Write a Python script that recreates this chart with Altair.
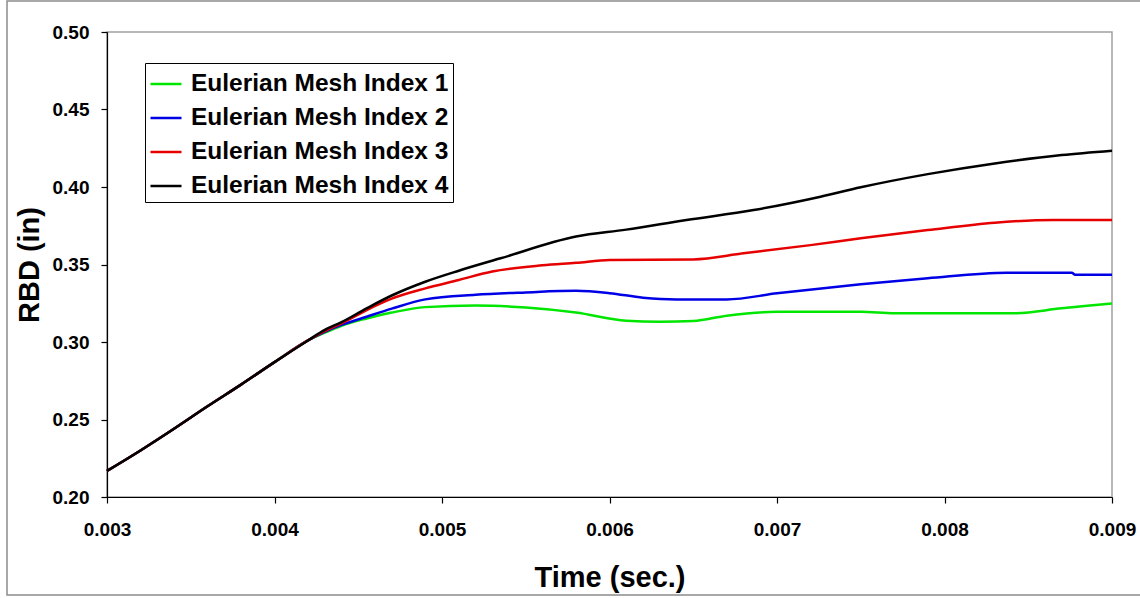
import altair as alt
import pandas as pd

series_names = ["Eulerian Mesh Index 1", "Eulerian Mesh Index 2",
                "Eulerian Mesh Index 3", "Eulerian Mesh Index 4"]
series_colors = ["#00e600", "#0000e6", "#e60000", "#000000"]

common_t = [0.0030, 0.0032, 0.0034, 0.0036, 0.0038, 0.0040, 0.0042]
common_v = [0.2168, 0.2300, 0.2440, 0.2585, 0.2725, 0.2870, 0.3010]

green_t = [0.0043, 0.0044, 0.00455, 0.0047, 0.0049, 0.0052, 0.0055, 0.0058,
           0.0061, 0.0063, 0.0065, 0.0067, 0.0070, 0.0075, 0.0077, 0.0084,
           0.0087, 0.0090]
green_v = [0.3060, 0.3105, 0.3152, 0.3190, 0.3225, 0.3235, 0.3222, 0.3190,
           0.3137, 0.3130, 0.3135, 0.3170, 0.3195, 0.3195, 0.3186, 0.3185,
           0.3217, 0.3249]

blue_t = [0.0043, 0.0044, 0.00455, 0.0047, 0.0049, 0.0052, 0.0055, 0.0058,
          0.0060, 0.0062, 0.0064, 0.0067, 0.0070, 0.0075, 0.0079, 0.00837,
          0.00876, 0.00878, 0.0090]
blue_v = [0.3065, 0.3110, 0.3163, 0.3215, 0.3275, 0.3305, 0.3320, 0.3330,
          0.3315, 0.3286, 0.3275, 0.3275, 0.3314, 0.3372, 0.3411, 0.3447,
          0.3447, 0.3434, 0.3434]

red_t = [0.0043, 0.0044, 0.00455, 0.0047, 0.0049, 0.0051, 0.0053, 0.0056,
         0.0058, 0.0060, 0.0065, 0.0068, 0.0072, 0.0075, 0.0079, 0.0083,
         0.00865, 0.0090]
red_v = [0.3070, 0.3120, 0.3206, 0.3280, 0.3346, 0.3400, 0.3455, 0.3495,
         0.3511, 0.3529, 0.3533, 0.3572, 0.3625, 0.3669, 0.3722, 0.3770,
         0.3787, 0.3787]

black_t = [0.0043, 0.0044, 0.00455, 0.0047, 0.0049, 0.0051, 0.00535, 0.0058,
           0.0061, 0.00646, 0.00686, 0.00726, 0.0075, 0.0079, 0.0083, 0.0087,
           0.0090]
black_v = [0.3078, 0.3128, 0.3217, 0.3300, 0.3389, 0.3460, 0.3540, 0.3680,
           0.3725, 0.3787, 0.3851, 0.3937, 0.3998, 0.4083, 0.4152, 0.4206,
           0.4234]

x_ticks = [0.003, 0.004, 0.005, 0.006, 0.007, 0.008, 0.009]
y_ticks = [0.20, 0.25, 0.30, 0.35, 0.40, 0.45, 0.50]

rows = []
for name, ts, vs in zip(series_names,
                        [green_t, blue_t, red_t, black_t],
                        [green_v, blue_v, red_v, black_v]):
    for i, (t, v) in enumerate(zip(common_t + ts, common_v + vs)):
        rows.append({"series": name, "t": t, "v": v, "order": i})
df = pd.DataFrame(rows)

FONT = "Liberation Sans"

frame = alt.Chart(pd.DataFrame({"a": [0]})).mark_rect(
    fill=None, stroke="#8c8c8c", strokeWidth=1.5
).encode(
    x=alt.value(-100), x2=alt.value(1200),
    y=alt.value(-31), y2=alt.value(563)
)

lines = alt.Chart(df).mark_line(strokeWidth=2.5, interpolate="monotone").encode(
    x=alt.X("t:Q", scale=alt.Scale(domain=[0.003, 0.009], nice=False, zero=False),
            axis=alt.Axis(values=x_ticks, format=".3f", title="Time (sec.)",
                          titlePadding=24, labelPadding=17, labelFlush=False,
                          labelOverlap=False)),
    y=alt.Y("v:Q", scale=alt.Scale(domain=[0.20, 0.50], nice=False, zero=False),
            axis=alt.Axis(values=y_ticks, format=".2f", title="RBD (in)",
                          titlePadding=8, labelPadding=12, labelFlush=False,
                          labelOverlap=False)),
    color=alt.Color("series:N",
                    scale=alt.Scale(domain=series_names, range=series_colors),
                    legend=alt.Legend(title=None, orient="none", legendX=38,
                                      legendY=31, symbolType="stroke",
                                      symbolSize=961, symbolStrokeWidth=2.5,
                                      labelFontSize=24.5, labelFont=FONT,
                                      labelFontWeight="bold", labelColor="black",
                                      strokeColor="black", fillColor="white",
                                      padding=4, rowPadding=5, labelOffset=8,
                                      labelLimit=400)),
    order="order:Q",
)

chart = alt.layer(lines, frame).properties(
    width=1005, height=465,
    padding={"left": 107, "top": 32, "right": 28, "bottom": 101},
    autosize=alt.AutoSizeParams(type="none"),
    background="white",
).configure_view(
    stroke="#a0a0a0", strokeWidth=1.5
).configure_axis(
    grid=False, domainColor="black", domainWidth=1.2, tickColor="black",
    tickSize=6, tickWidth=1.2, labelFont=FONT, labelFontSize=19,
    labelFontWeight="bold", labelColor="black", titleFont=FONT,
    titleFontSize=29, titleFontWeight="bold", titleColor="black"
)

chart.save("out.html", embed_options={"renderer": "svg", "actions": False})
